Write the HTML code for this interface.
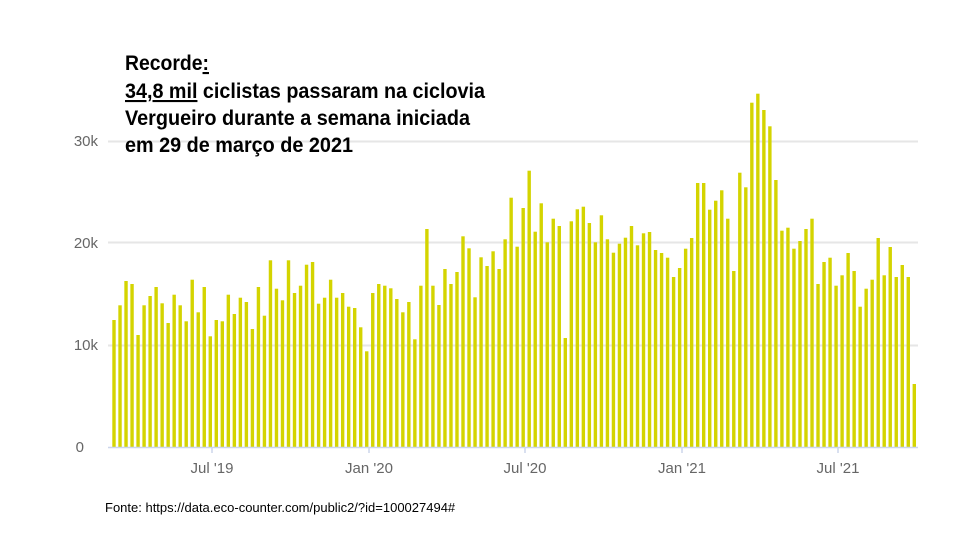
<!DOCTYPE html>
<html><head><meta charset="utf-8"><style>
body{margin:0;background:#fff;width:960px;height:540px;overflow:hidden}
svg{display:block}
.t{font-family:"Liberation Sans Narrow","Liberation Sans",sans-serif;font-weight:bold;font-size:21px;fill:#000}
.ax{font-family:"Liberation Sans",sans-serif;font-size:15px;fill:#666}
</style></head><body>
<svg width="960" height="540" viewBox="0 0 960 540">
<g stroke="#e6e6e6" stroke-width="2">
<line x1="108" y1="141.5" x2="918" y2="141.5"/>
<line x1="108" y1="242.5" x2="918" y2="242.5"/>
<line x1="108" y1="345.5" x2="918" y2="345.5"/>
</g>
<g id="bars" fill="#d4d400"></g>
<line x1="108" y1="447.5" x2="918" y2="447.5" stroke="#ccd6eb" stroke-width="1.5"/>
<g stroke="#ccd6eb" stroke-width="1.5">
<line x1="212" y1="447" x2="212" y2="453"/><line x1="369" y1="447" x2="369" y2="453"/>
<line x1="525" y1="447" x2="525" y2="453"/><line x1="682" y1="447" x2="682" y2="453"/>
<line x1="838" y1="447" x2="838" y2="453"/>
</g>
<g class="ax" text-anchor="end">
<text x="84" y="452">0</text><text x="98" y="350">10k</text>
<text x="98" y="248">20k</text><text x="98" y="146">30k</text>
</g>
<g class="ax" text-anchor="middle">
<text x="212" y="473">Jul '19</text><text x="369" y="473">Jan '20</text>
<text x="525" y="473">Jul '20</text><text x="682" y="473">Jan '21</text>
<text x="838" y="473">Jul '21</text>
</g>
<text class="t" x="125" y="70" textLength="84" lengthAdjust="spacingAndGlyphs">Recorde<tspan text-decoration="underline">:</tspan></text>
<text class="t" x="125" y="98" textLength="360" lengthAdjust="spacingAndGlyphs"><tspan text-decoration="underline">34,8 mil</tspan> ciclistas passaram na ciclovia</text>
<text class="t" x="125" y="125" textLength="345" lengthAdjust="spacingAndGlyphs">Vergueiro durante a semana iniciada</text>
<text class="t" x="125" y="152" textLength="228" lengthAdjust="spacingAndGlyphs">em  29 de março de 2021</text>
<text x="105" y="512" font-family="Liberation Sans,sans-serif" font-size="13" fill="#000">Fonte: https://data.eco-counter.com/public2/?id=100027494#</text>
</svg>
<script>
var t=[320,305.3,281,284,335,305.3,296,287,303.3,323,294.7,305.3,321.3,279.7,312.3,287,336.3,320,321.3,294.7,314,297.7,302,329,287,315.7,260.3,288.7,300.3,260.3,293,285.7,264.7,262,303.7,297.7,279.7,297.7,293,306.7,308,327.3,351.3,293,284,
285.7,288.3,299,312.3,302,339.3,285.7,229,285.7,305,269,284,272,236.3,248.3,297.3,257.3,266,251.3,269,239.3,197.7,246.7,208,170.7,231.7,203.3,242.3,218.7,226,338,221.3,209.3,206.7,223,242.3,215.3,239.3,252.7,243.7,237.7,226,245.3,
233.3,232,250,253,257.7,277,268,248.7,238,183,183,209.7,200.7,190.3,218.7,271,172.7,187.3,102.7,93.7,110,126.3,180,230.7,227.7,248.7,241,229,218.7,284,262,257.7,285.7,275.3,253,271,306.7,288.7,279.7,238,275.3,247,277,265,277,384];
var g=document.getElementById('bars'),s='',n=t.length,step=(914.3-114)/(n-1);
for(var i=0;i<n;i++){var x=114+i*step-1.7;s+='<rect x="'+x.toFixed(2)+'" y="'+t[i]+'" width="3.4" height="'+(447-t[i]).toFixed(1)+'"/>';}
g.innerHTML=s;
</script>
</body></html>
